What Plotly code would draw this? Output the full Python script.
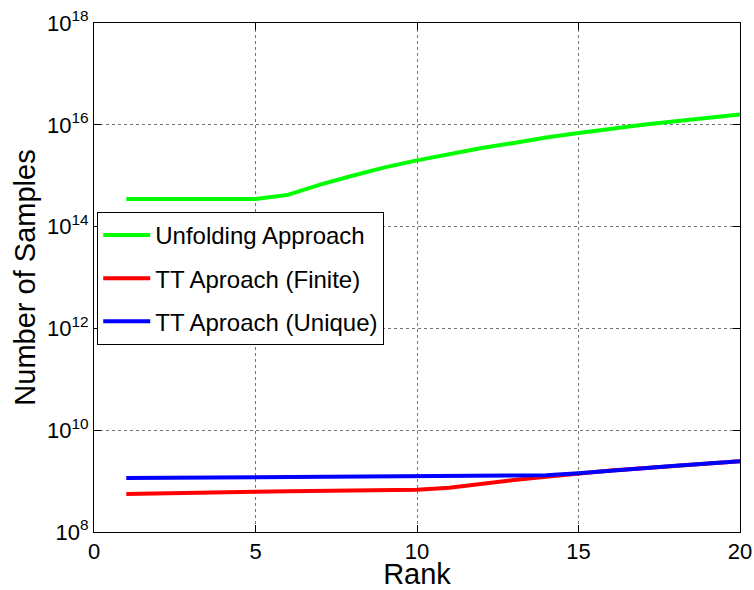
import plotly.graph_objects as go

rank = list(range(1, 21))
unfolding = [3.5e14, 3.5e14, 3.5e14, 3.5e14, 3.5e14, 4.2e14, 6.7e14, 1.0e15, 1.46e15, 2.0e15,
             2.66e15, 3.5e15, 4.4e15, 5.65e15, 6.9e15, 8.4e15, 1.0e16, 1.18e16, 1.37e16, 1.6e16]
tt_finite = [5.6e8, 5.8e8, 5.95e8, 6.1e8, 6.2e8, 6.3e8, 6.45e8, 6.55e8, 6.65e8, 6.8e8,
             7.4e8, 9.0e8, 1.05e9, 1.22e9, 1.42e9, 1.62e9, 1.79e9, 2.0e9, 2.21e9, 2.45e9]
tt_unique = [1.15e9, 1.16e9, 1.17e9, 1.18e9, 1.19e9, 1.2e9, 1.21e9, 1.22e9, 1.23e9, 1.24e9,
             1.25e9, 1.26e9, 1.28e9, 1.3e9, 1.42e9, 1.62e9, 1.79e9, 2.0e9, 2.21e9, 2.45e9]
names = ["Unfolding Approach", "TT Aproach (Finite)", "TT Aproach (Unique)"]
colors = ["#00ff00", "#ff0000", "#0000ff"]
x_ticks = [0, 5, 10, 15, 20]
y_exps = [8, 10, 12, 14, 16, 18]

font = "Liberation Sans, Arial, Helvetica, sans-serif"
fig = go.Figure()
for i, (y, n, c) in enumerate(zip([unfolding, tt_finite, tt_unique], names, colors)):
    fig.add_trace(go.Scatter(x=rank, y=y, name=n, mode="lines", legendgroup=f"g{i}",
                             line=dict(color=c, width=4)))

axis_common = dict(showline=True, linecolor="black", linewidth=1, mirror="ticks",
                   ticks="inside", ticklen=7, tickcolor="black", automargin=False,
                   ticklabeloverflow="allow",
                   showgrid=True, gridcolor="rgba(0,0,0,0.55)", griddash="dot", gridwidth=1,
                   zeroline=False, tickfont=dict(size=22, color="black", family=font))
fig.update_xaxes(range=[0, 20], tickvals=x_ticks,
                 title=dict(text="Rank", font=dict(size=29, color="black", family=font), standoff=0),
                 **axis_common)
fig.update_yaxes(type="log", range=[8, 18], tickvals=[10 ** e for e in y_exps],
                 ticktext=[f"10<sup>{e}</sup>" for e in y_exps],
                 title=dict(text="Number of Samples", font=dict(size=29, color="black", family=font), standoff=2),
                 **axis_common)
fig.update_layout(width=754, height=590, plot_bgcolor="white", paper_bgcolor="white",
                  margin=dict(l=94, r=14, t=23, b=58),
                  font=dict(family=font, color="black"),
                  legend=dict(x=0.005, y=0.629, xanchor="left", yanchor="top",
                              bgcolor="white", bordercolor="black", borderwidth=1,
                              font=dict(size=24, family=font, color="black"),
                              tracegroupgap=9, itemwidth=47))
fig.write_html("out.html", config={"displayModeBar": False},
               post_script="document.body.style.margin='0';document.body.style.overflow='hidden';")
